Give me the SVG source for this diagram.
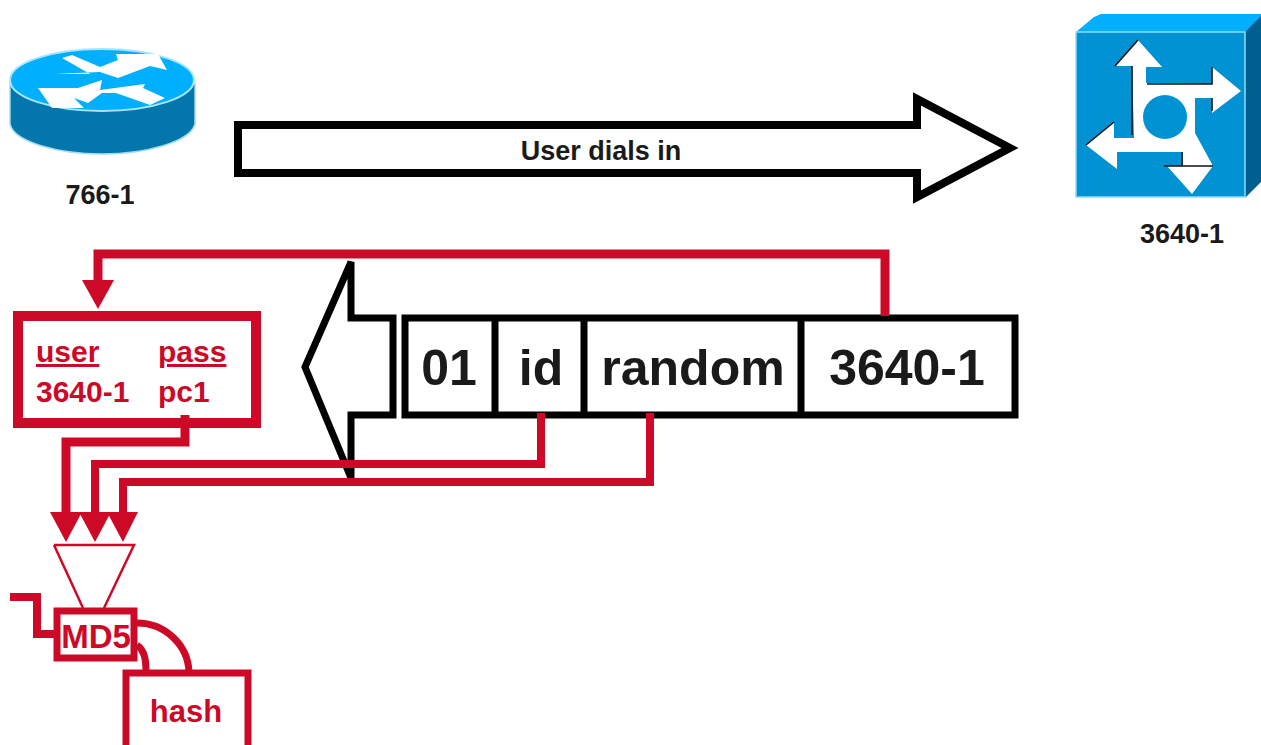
<svg xmlns="http://www.w3.org/2000/svg" width="1261" height="745" viewBox="0 0 1261 745">
<style>
text{font-family:"Liberation Sans",Arial,sans-serif;font-weight:bold}
.k{fill:#1a1a1a}
.r{fill:#cc0a28}
.l{fill:none;stroke:#cc0a28;stroke-linejoin:miter}
.b{fill:#fff;stroke:#000;stroke-width:8}
.w{fill:#fff}
</style>
<rect width="1261" height="745" fill="#fff"/>
<g id="router-766-1">
<path d="M10 84V124C14 142 58 154 102 154C146 154 190 142 195 124V84Z" fill="#0377ab" stroke="#9fdcf5" stroke-width="1.5"/>
<ellipse cx="102" cy="80" rx="92" ry="31" fill="#00b0ff" stroke="#a8e6ff" stroke-width="2"/>
<path class="w" d="M55 74H90L62 58L72 55L100 67L118 60L116 54H158L167 70L150 66L118 78L100 72ZM38 88H78L102 80L100 90L145 84L143 88L165 98L150 105L116 93H102L88 103L74 98L84 108H52Z"/>
<text x="100" y="204" text-anchor="middle" font-size="27" class="k">766-1</text>
</g>
<g id="router-3640-1">
<path d="M1076 32L1094 17L1101 14H1261V32Z" fill="#00b0ff"/>
<path d="M1245 32L1261 16V182L1245 198Z" fill="#005f8f"/>
<rect x="1076" y="32" width="169" height="165" fill="#0092d2" stroke="#8fdcf8" stroke-width="1.5"/>
<path class="w" d="M1115 66L1138 40L1162 67H1146V83L1212 84V67L1241 91L1212 113V98H1195V133L1213 166L1192 194L1167 166H1183V152H1117V169L1086 145L1114 122V138H1134L1132 66Z"/>
<circle cx="1165" cy="117" r="22" fill="#0092d2"/>
<path d="M1115 66L1138 40M1132 66V135M1147 84H1212V67M1212 98V111M1164 166H1213M1182 152V166M1086 145L1114 122" fill="none" stroke="#111" stroke-width="1.6"/>
<text x="1182" y="243" text-anchor="middle" font-size="27" class="k">3640-1</text>
</g>
<g id="arrow-user-dials-in">
<path class="b" d="M238 125H917V99L1010 148L917 197V173H238Z"/>
<text x="601" y="160" text-anchor="middle" font-size="27" class="k">User dials in</text>
</g>
<g id="arrow-response">
<path d="M351 262V318H393V415H351V478L305 367Z" fill="#fff" stroke="#000" stroke-width="7"/>
</g>
<g id="packet">
<rect x="405" y="318" width="610" height="97" fill="#fff" stroke="#000" stroke-width="7"/>
<path d="M495 318V415M584 318V415M801 318V415" stroke="#000" stroke-width="7" fill="none"/>
<text x="449" y="385" text-anchor="middle" font-size="50" class="k">01</text>
<text x="541" y="385" text-anchor="middle" font-size="50" class="k">id</text>
<text x="693" y="385" text-anchor="middle" font-size="50" class="k">random</text>
<text x="907" y="385" text-anchor="middle" font-size="50" class="k">3640-1</text>
</g>
<g id="connectors">
<path class="l" stroke-width="9" d="M885 316V254H98V282"/>
<path class="r" d="M82 280H114L98 309Z"/>
<path class="l" stroke-width="9" d="M185 415V442H66V516"/>
<path class="l" stroke-width="8" d="M541 413V464H95V516"/>
<path class="l" stroke-width="8" d="M650 413V482H123V516"/>
<path class="r" d="M50 512H82L66 542ZM79 512H111L95 542ZM107 512H138L123 542Z"/>
<path class="l" stroke-width="2.5" d="M54 545H134L104 608M54 545L83 608"/>
<path class="l" stroke-width="8" d="M10 597H37V634H56"/>
<path class="l" stroke-width="7" d="M137 623C165 623 188 645 189 672"/>
<path class="l" stroke-width="7" d="M137 645C144 650 146 658 146 672"/>
</g>
<g id="credentials">
<rect x="18" y="316" width="238" height="107" fill="none" stroke="#cc0a28" stroke-width="10"/>
<text x="36" y="362" font-size="30" class="r" text-decoration="underline">user</text>
<text x="158" y="362" font-size="30" class="r" text-decoration="underline">pass</text>
<text x="36" y="402" font-size="30" class="r">3640-1</text>
<text x="158" y="402" font-size="30" class="r">pc1</text>
</g>
<g id="md5">
<rect x="57" y="611" width="77" height="47" fill="#fff" stroke="#cc0a28" stroke-width="7"/>
<text x="96" y="648" text-anchor="middle" font-size="33" class="r">MD5</text>
</g>
<g id="hash">
<rect x="126" y="673" width="122" height="76" fill="#fff" stroke="#cc0a28" stroke-width="7"/>
<text x="186" y="722" text-anchor="middle" font-size="31" class="r">hash</text>
</g>
</svg>
